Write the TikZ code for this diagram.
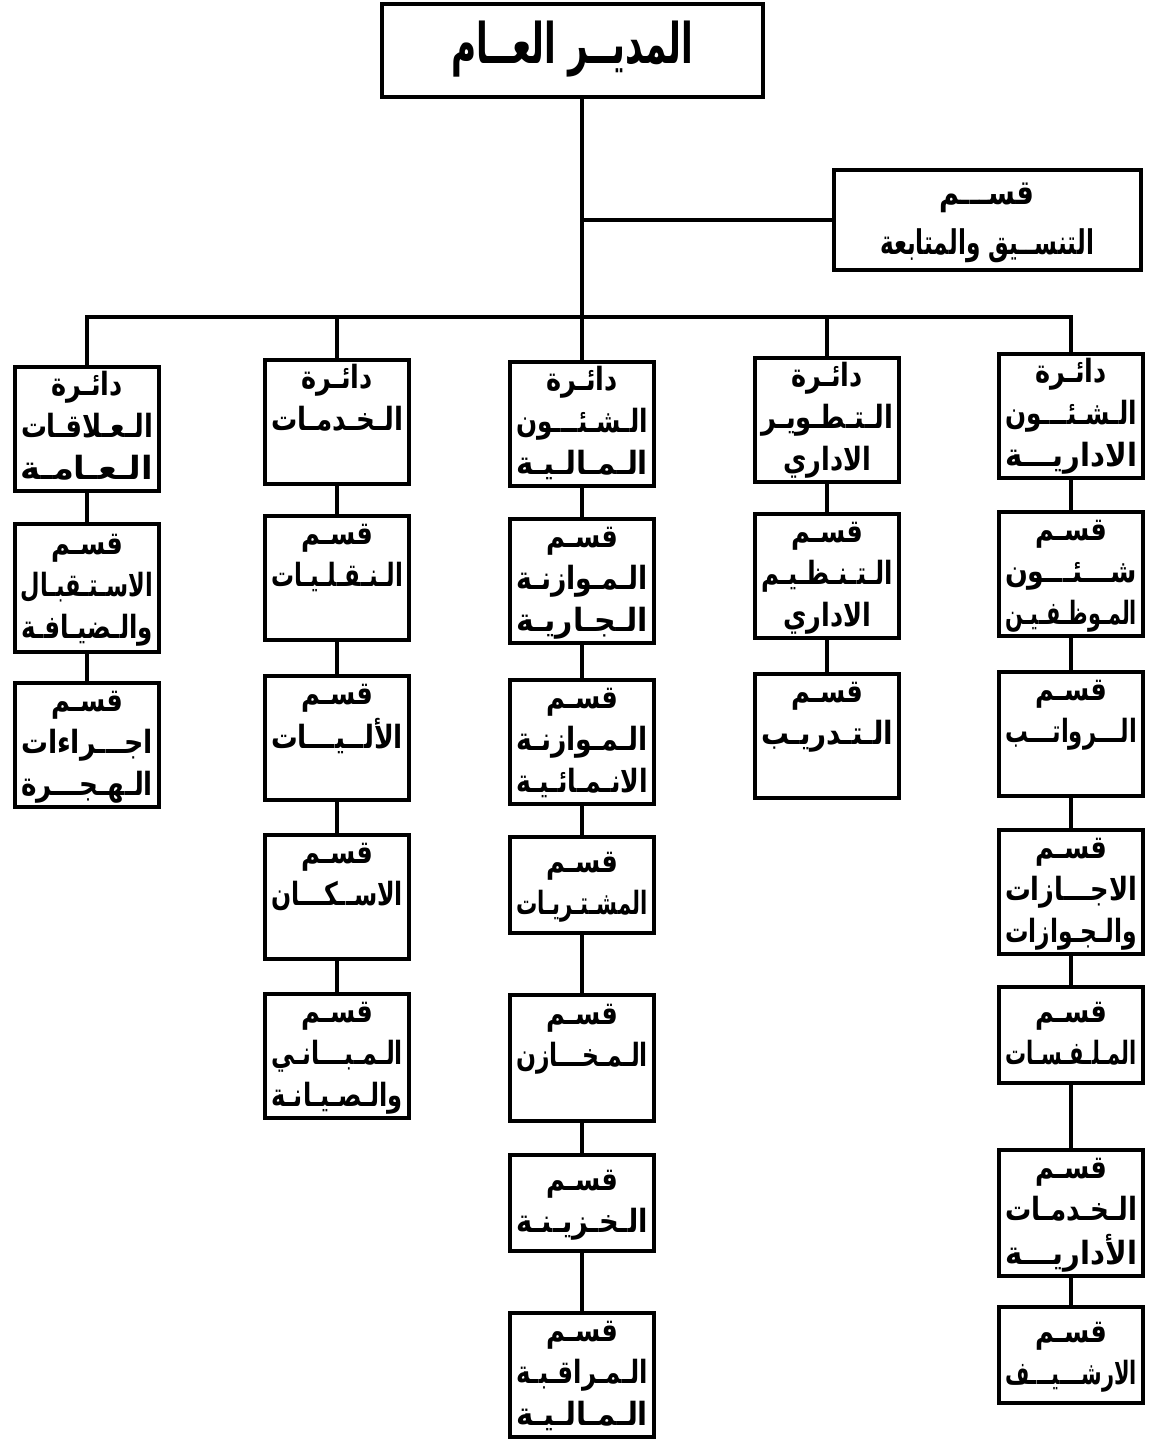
\documentclass[tikz,border=0pt]{standalone}
\usepackage{fontspec}
\usepackage{graphicx}
\usetikzlibrary{positioning}
\newfontfamily\arabicfont[Script=Arabic]{DejaVu Sans}
\TeXXeTstate=1
\newcommand{\ar}[1]{\scalebox{0.8}[1]{\beginR\strut #1\endR}}
\newcommand{\arw}[2][66pt]{\resizebox{#1}{\height}{\beginR\strut #2\endR}}

\begin{document}
\begin{tikzpicture}
    [
        x=0.5pt, y=-0.5pt,
        node distance=15pt,
        boxfont/.style ={font=\arabicfont\bfseries\fontsize{16}{20}\selectfont},
        dept/.style    ={rectangle, draw=black, line width=2pt, inner sep=0pt,
                         minimum width=72pt, minimum height=60.5pt, align=center, boxfont},
        sect/.style    ={dept},
        ssect/.style   ={dept, minimum height=48pt},
        chief/.style   ={dept, minimum width=190.5pt, minimum height=46.5pt,
                         font=\arabicfont\bfseries\fontsize{28}{30}\selectfont},
        sidebox/.style ={dept, minimum width=153.5pt, minimum height=50pt,
                         font=\arabicfont\bfseries\fontsize{17}{24}\selectfont},
        link/.style    ={-, line width=1.6pt}
    ]

    \useasboundingbox (0,0) rectangle (1152,1445);

    \node[chief]    (gm)     at (572,51)      {\arw[121pt]{المديــر العــام}};
    \node[sidebox]  (coord)  at (987,220)     {\ar{قســـم}\\\arw[107pt]{التنســيق والمتابعة}};
    \coordinate     (bus)    at (0,317);

    % first row of departments
    \node[dept, anchor=north] (pr)   at (87,365)   {\ar{دائـرة}\\\arw{الـعـلاقـات}\\\arw{الـعـامـة}};
    \node[dept, anchor=north] (serv) at (337,358)  {\ar{دائـرة}\\\arw{الـخـدمـات}\\\ar{}};
    \node[dept, anchor=north] (fin)  at (582,360)  {\ar{دائـرة}\\\arw{الـشـئـــون}\\\arw{الـمـالـيـة}};
    \node[dept, anchor=north] (adev) at (827,356)  {\ar{دائـرة}\\\arw{الـتـطـويـر}\\\ar{الاداري}};
    \node[dept, anchor=north] (adm)  at (1071,352) {\ar{دائـرة}\\\arw{الـشـئـــون}\\\arw{الاداريـــة}};

    \node[sect, minimum height=64pt] (rec) [below=14.5pt of pr] {\ar{قسـم}\\\arw{الاسـتـقبـال}\\\arw{والـضيـافـة}};
    \node[sect]     (mig)    [below=13.5pt of rec]   {\ar{قسـم}\\\arw{اجـــراءات}\\\arw{الـهـجـــرة}};

    \node[sect]     (transp) [below=14pt of serv]    {\ar{قسـم}\\\arw{الـنـقـلـيـات}\\\ar{}};
    \node[sect]     (mach)   [below=16pt of transp]  {\ar{قسـم}\\\arw{الألــيـــات}\\\ar{}};
    \node[sect]     (hous)   [below=15.5pt of mach]  {\ar{قسـم}\\\arw{الاســكـــان}\\\ar{}};
    \node[sect]     (bldg)   [below=15.5pt of hous]  {\ar{قسـم}\\\arw{الـمـبـــانـي}\\\arw{والـصـيـانـة}};

    \node[sect]     (curb)   [below=14.5pt of fin]   {\ar{قسـم}\\\arw{الـمـوازنـة}\\\arw{الـجـاريـة}};
    \node[sect]     (devb)   [below=16.5pt of curb]  {\ar{قسـم}\\\arw{الـمـوازنـة}\\\arw{الانـمـائـيـة}};
    \node[ssect]    (purch)  [below=14.5pt of devb]  {\ar{قسـم}\\\arw{المشـتـريـات}};
    \node[sect, minimum height=63pt] (store) [below=29pt of purch] {\ar{قسـم}\\\arw{الـمـخـــازن}\\\ar{}};
    \node[ssect]    (treas)  [below=15pt of store]   {\ar{قسـم}\\\arw{الـخـزيـنـة}};
    \node[sect]     (audit)  [below=29pt of treas]   {\ar{قسـم}\\\arw{الـمـراقـبـة}\\\arw{الـمـالـيـة}};

    \node[sect]     (org)    [below=14pt of adev]    {\ar{قسـم}\\\arw{الـتـنـظـيـم}\\\ar{الاداري}};
    \node[sect]     (train)  [below=16pt of org]     {\ar{قسـم}\\\arw{الـتـدريـب}\\\ar{}};

    \node[sect]     (staff)  [below=15pt of adm]     {\ar{قسـم}\\\arw{شـــئـــون}\\\arw{المـوظـفـيـن}};
    \node[sect]     (sal)    [below=16pt of staff]   {\ar{قسـم}\\\arw{الـــرواتـــب}\\\ar{}};
    \node[sect]     (leave)  [below=15pt of sal]     {\ar{قسـم}\\\arw{الاجـــازات}\\\arw{والـجـوازات}};
    \node[ssect]    (files)  [below=14.5pt of leave] {\ar{قسـم}\\\arw{المـلـفـسـات}};
    \node[sect]     (asrv)   [below=31.5pt of files] {\ar{قسـم}\\\arw{الـخـدمـات}\\\arw{الأداريـــة}};
    \node[ssect]    (arch)   [below=13.5pt of asrv]  {\ar{قسـم}\\\arw{الارشـــيـــف}};

    \draw[link]     (gm.south -| fin.north) to (fin.north);
    \draw[link]     (coord.west -| fin.north) to (coord.west);
    \draw[link]     (pr.north) -- (pr.north |- bus) -- (adm.north |- bus) -- (adm.north);
    \draw[link]     (serv.north) to (serv.north |- bus);
    \draw[link]     (adev.north) to (adev.north |- bus);

    \foreach \a/\b in {pr/rec, rec/mig, serv/transp, transp/mach, mach/hous, hous/bldg,
                       fin/curb, curb/devb, devb/purch, purch/store, store/treas, treas/audit,
                       adev/org, org/train,
                       adm/staff, staff/sal, sal/leave, leave/files, files/asrv, asrv/arch}
        \draw[link] (\a) to (\b);

\end{tikzpicture}
\end{document}
